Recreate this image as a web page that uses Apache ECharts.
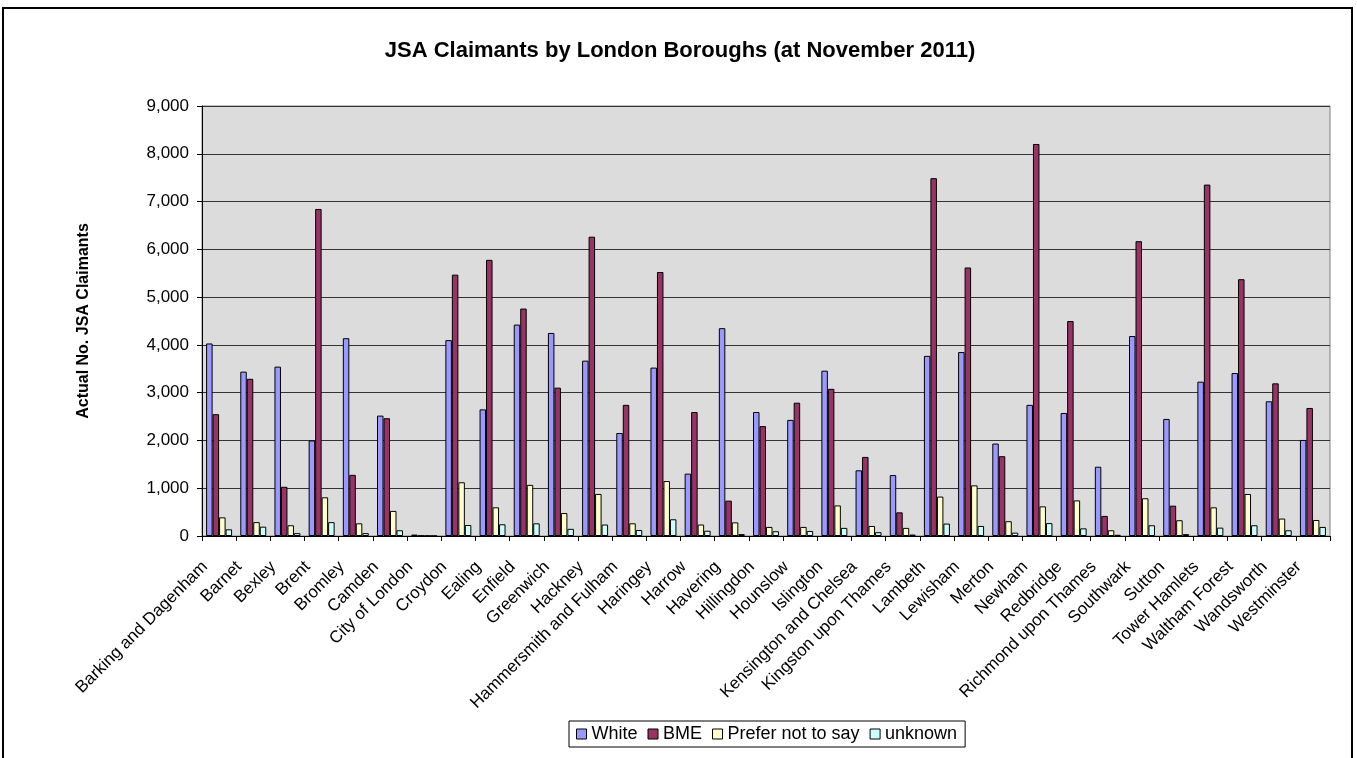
<!DOCTYPE html>
<html>
<head>
<meta charset="utf-8">
<script src="https://cdn.jsdelivr.net/npm/echarts@6/dist/echarts.min.js"></script>
<style>
html,body{margin:0;padding:0;background:#fff;}
#chart{width:1357px;height:758px;}
</style>
</head>
<body>
<div id="chart"></div>
<script>
const boroughs = ["Barking and Dagenham","Barnet","Bexley","Brent","Bromley","Camden","City of London","Croydon","Ealing","Enfield","Greenwich","Hackney","Hammersmith and Fulham","Haringey","Harrow","Havering","Hillingdon","Hounslow","Islington","Kensington and Chelsea","Kingston upon Thames","Lambeth","Lewisham","Merton","Newham","Redbridge","Richmond upon Thames","Southwark","Sutton","Tower Hamlets","Waltham Forest","Wandsworth","Westminster"];
const white = [4030,3440,3545,2000,4140,2520,30,4100,2650,4425,4250,3670,2155,3525,1305,4350,2595,2430,3460,1375,1275,3770,3850,1935,2745,2575,1450,4185,2450,3230,3410,2820,2010];
const bme = [2550,3290,1030,6845,1280,2465,8,5470,5780,4760,3105,6265,2745,5525,2595,740,2300,2790,3080,1655,495,7490,5620,1670,8205,4500,420,6170,635,7355,5375,3195,2680];
const preferNot = [390,290,225,810,265,525,5,1125,600,1070,480,880,265,1150,240,285,190,190,640,210,170,825,1060,310,620,745,120,790,330,600,880,365,335];
const unknown = [140,195,60,290,60,120,3,230,245,265,150,240,125,350,110,40,100,105,170,80,30,260,210,70,270,160,25,225,40,175,225,120,190];
const yTicks = [0,1000,2000,3000,4000,5000,6000,7000,8000,9000];

const chart = echarts.init(document.getElementById('chart'));
const font = 'Liberation Sans, Arial, sans-serif';
function mk(name, data, color){
  return {name:name,type:'bar',data:data,barGap:'0%',barCategoryGap:'24%',
    itemStyle:{color:color,borderColor:'#000',borderWidth:1},emphasis:{disabled:true}};
}
chart.setOption({
  animation:false,
  textStyle:{fontFamily:font},
  graphic:[{type:'rect',shape:{x:3,y:8,width:1349,height:770},style:{fill:null,stroke:'#000',lineWidth:2},z:-1}],
  title:{text:'JSA Claimants by London Boroughs (at November 2011)',left:675,textAlign:'center',top:35,
    textStyle:{fontFamily:font,fontSize:22,fontWeight:'bold',color:'#000'}},
  legend:{left:569,top:721,itemWidth:10,itemHeight:10,itemGap:10,
    borderColor:'#000',borderWidth:1,padding:[4,8,4,7],
    textStyle:{fontFamily:font,fontSize:18,color:'#000'},
    data:[{name:'White',icon:'rect'},{name:'BME',icon:'rect'},{name:'Prefer not to say',icon:'rect'},{name:'unknown',icon:'rect'}],
    itemStyle:{borderColor:'#000',borderWidth:1}},
  grid:{left:202,right:27,top:106,bottom:222,show:true,backgroundColor:'#DCDCDC',borderColor:'#808080',borderWidth:1},
  xAxis:{type:'category',data:boroughs,
    axisLine:{lineStyle:{color:'#000',width:1}},
    axisTick:{show:true,length:5,lineStyle:{color:'#000'}},
    axisLabel:{interval:0,rotate:45,fontSize:17,color:'#000',fontFamily:font,margin:14,padding:[0,20,0,0]}},
  yAxis:{type:'value',min:yTicks[0],max:yTicks[yTicks.length-1],interval:1000,
    name:'Actual No. JSA Claimants',nameLocation:'middle',nameGap:110,nameRotate:90,
    nameTextStyle:{fontFamily:font,fontSize:16,fontWeight:'bold',color:'#000'},
    axisLine:{show:true,lineStyle:{color:'#000',width:1}},
    axisTick:{show:true,length:5,lineStyle:{color:'#000'}},
    splitLine:{lineStyle:{color:'#333',width:1}},
    axisLabel:{fontSize:17,color:'#000',fontFamily:font,margin:13,
      formatter:v=>v.toLocaleString('en-US')}},
  series:[mk('White',white,'#9999FF'),mk('BME',bme,'#993366'),mk('Prefer not to say',preferNot,'#FFFFCC'),mk('unknown',unknown,'#CCFFFF')]
});
</script>
</body>
</html>
